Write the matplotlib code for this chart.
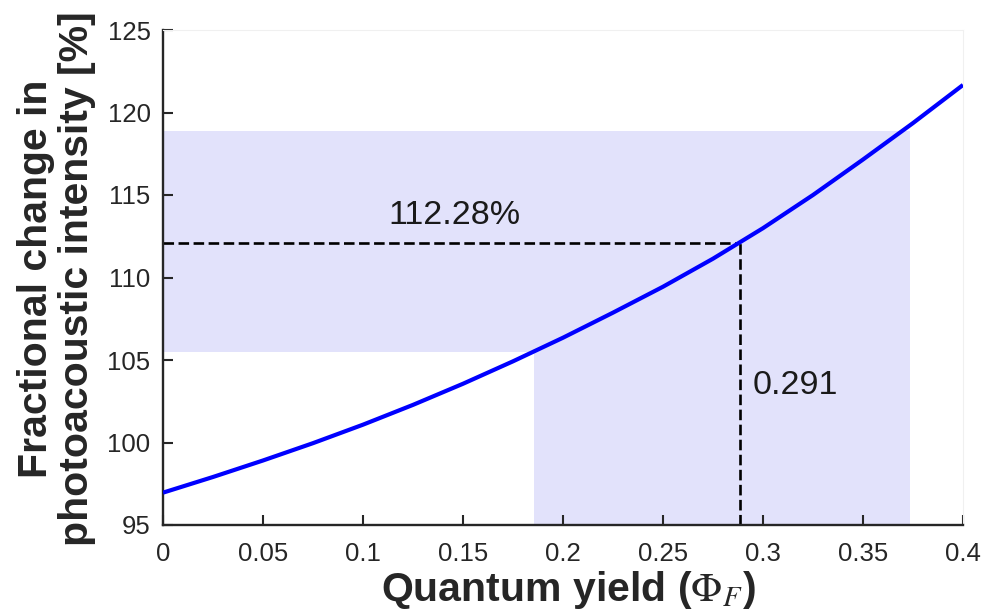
import matplotlib
matplotlib.use("Agg")
import matplotlib.pyplot as plt

# ---- data ----
quantum_yield = [0.0, 0.025, 0.05, 0.075, 0.1, 0.125, 0.15, 0.175, 0.2,
                 0.225, 0.25, 0.275, 0.3, 0.325, 0.35, 0.375, 0.4]
pa_change = [96.96, 97.91, 98.91, 99.96, 101.08, 102.28, 103.56, 104.92,
             106.35, 107.87, 109.44, 111.14, 112.99, 115.0, 117.15, 119.36,
             121.67]

band_y_low = 105.5
band_y_high = 118.85
band_x_low = 0.1855
band_x_high = 0.3735

marker_x = 0.2885
marker_y = 112.1
marker_x_text = "0.291"
marker_y_text = "112.28%"

x_ticks = [0, 0.05, 0.1, 0.15, 0.2, 0.25, 0.3, 0.35, 0.4]
x_tick_labels = ["0", "0.05", "0.1", "0.15", "0.2", "0.25", "0.3", "0.35", "0.4"]
y_ticks = [95, 100, 105, 110, 115, 120, 125]
y_tick_labels = ["95", "100", "105", "110", "115", "120", "125"]

x_limits = (0, 0.4)
y_limits = (95, 125)

# ---- style ----
plt.rcParams['font.family'] = ['Liberation Sans', 'DejaVu Sans']
plt.rcParams['mathtext.fontset'] = 'stix'

fig = plt.figure(figsize=(9.86, 6.16), dpi=100)
ax = fig.add_axes([163 / 986, 1 - 525 / 616, 800 / 986, 495 / 616])

ax.set_xlim(*x_limits)
ax.set_ylim(*y_limits)

shade = '#e2e2fb'
ymin = y_limits[0]
ax.fill([0, band_x_high, band_x_high, band_x_low, band_x_low, 0],
        [band_y_high, band_y_high, ymin, ymin, band_y_low, band_y_low],
        color=shade, lw=0, zorder=0)

dash = (0, (4, 1.7))
ax.plot([0, marker_x], [marker_y, marker_y], color='black', lw=1.9,
        linestyle=dash, zorder=2)
ax.plot([marker_x, marker_x], [ymin, marker_y], color='black', lw=1.9,
        linestyle=dash, zorder=2)

ax.plot(quantum_yield, pa_change, color='#0000ff', lw=3.0, zorder=3,
        solid_capstyle='butt', solid_joinstyle='round')

ax.text(0.1455, 113.75, marker_y_text, fontsize=24.5, ha='center',
        va='center', color='#1a1a1a')
ax.text(0.295, 103.45, marker_x_text, fontsize=24.5, ha='left', va='center',
        color='#1a1a1a')

ax.set_xticks(x_ticks)
ax.set_xticklabels(x_tick_labels)
ax.set_yticks(y_ticks)
ax.set_yticklabels(y_tick_labels)
ax.tick_params(direction='in', length=7, width=1.5, color='#262626',
               labelsize=18.5, labelcolor='#262626')
ax.tick_params(axis='x', pad=12)
ax.tick_params(axis='y', pad=9)

for side in ['left', 'bottom']:
    ax.spines[side].set_color('#262626')
    ax.spines[side].set_linewidth(1.7)
for side in ['top', 'right']:
    ax.spines[side].set_color('#f0f0f0')
    ax.spines[side].set_linewidth(0.8)

fig.text(568 / 986, 1 - 601 / 616, r'Quantum yield ($\Phi_{F}$)',
         fontsize=29.5, fontweight='bold', ha='center', va='baseline',
         color='#262626')
fig.text(57 / 986, 1 - 279 / 616,
         'Fractional change in\nphotoacoustic intensity [%]',
         fontsize=29.5, fontweight='bold', rotation=90, ha='center',
         va='center', multialignment='center', linespacing=1.1,
         color='#262626')

fig.savefig('out.png', dpi=100)
